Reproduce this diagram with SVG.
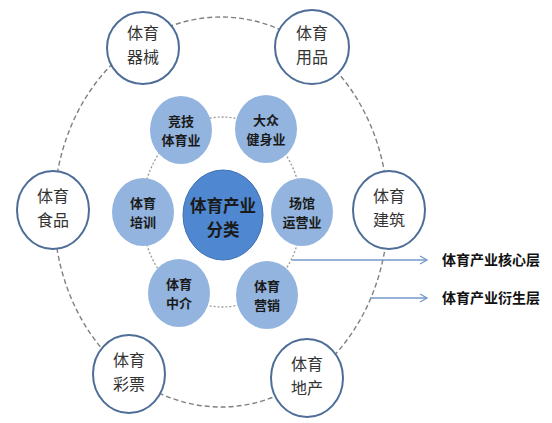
<svg xmlns="http://www.w3.org/2000/svg" width="552" height="423" viewBox="0 0 552 423">
<style>
.outer{fill:#fff;stroke:#4e6d97;stroke-width:2}
.inner{fill:#93b4de;stroke:none}
.core{fill:#4f88d0;stroke:#3d6fb3;stroke-width:1}
.ot{font-family:"Noto Sans CJK SC","Noto Sans CJK JP",sans-serif;font-size:16px;fill:#333;text-anchor:middle}
.it{font-family:"Noto Sans CJK SC","Noto Sans CJK JP",sans-serif;font-size:13px;font-weight:bold;fill:#1a1a1a;text-anchor:middle}
.ct{font-family:"Noto Sans CJK SC","Noto Sans CJK JP",sans-serif;font-size:16.5px;font-weight:bold;fill:#1a1a1a;text-anchor:middle}
.lt{font-family:"Noto Sans CJK SC","Noto Sans CJK JP",sans-serif;font-size:14px;font-weight:bold;fill:#111}
.arr{stroke:#7399c9;stroke-width:1.3;fill:none}
</style>
<defs>
<marker id="ah" markerWidth="10" markerHeight="10" refX="8" refY="5" orient="auto" markerUnits="userSpaceOnUse">
<path d="M1,1 L8,5 L1,9" fill="none" stroke="#7399c9" stroke-width="1.3"/>
</marker>
</defs>
<rect width="552" height="423" fill="#fff"/>
<g id="connectors">
<ellipse cx="221" cy="212" rx="167" ry="195" fill="none" stroke="#808080" stroke-width="1.4" stroke-dasharray="5 3"/>
<ellipse cx="222" cy="212" rx="80" ry="95" fill="none" stroke="#9a9a9a" stroke-width="1.3" stroke-dasharray="2 2"/>
<line class="arr" x1="292" y1="260" x2="427" y2="260" marker-end="url(#ah)"/>
<line class="arr" x1="370" y1="298" x2="427" y2="298" marker-end="url(#ah)"/>
</g>
<g id="n-qixie"><circle class="outer" cx="143" cy="48" r="36"/><text class="ot" x="143" y="39">体育</text><text class="ot" x="143" y="62.5">器械</text></g>
<g id="n-yongpin"><circle class="outer" cx="312" cy="47" r="37"/><text class="ot" x="312" y="39">体育</text><text class="ot" x="312" y="62.5">用品</text></g>
<g id="n-shipin"><ellipse class="outer" cx="53" cy="210" rx="36" ry="39"/><text class="ot" x="53" y="202">体育</text><text class="ot" x="53" y="225.5">食品</text></g>
<g id="n-jianzhu"><ellipse class="outer" cx="389" cy="210" rx="36" ry="39"/><text class="ot" x="389" y="202">体育</text><text class="ot" x="389" y="225.5">建筑</text></g>
<g id="n-caipiao"><ellipse class="outer" cx="129" cy="374" rx="36" ry="39"/><text class="ot" x="129" y="366">体育</text><text class="ot" x="129" y="389.5">彩票</text></g>
<g id="n-dichan"><ellipse class="outer" cx="307" cy="378" rx="36" ry="39"/><text class="ot" x="307" y="370">体育</text><text class="ot" x="307" y="393.5">地产</text></g>
<g id="n-jingji"><ellipse class="inner" cx="181" cy="130" rx="31" ry="34"/><text class="it" x="181" y="126">竞技</text><text class="it" x="181" y="145">体育业</text></g>
<g id="n-dazhong"><ellipse class="inner" cx="266" cy="129" rx="31" ry="34"/><text class="it" x="266" y="125">大众</text><text class="it" x="266" y="144">健身业</text></g>
<g id="n-peixun"><ellipse class="inner" cx="143" cy="212" rx="31" ry="34"/><text class="it" x="143" y="208">体育</text><text class="it" x="143" y="227">培训</text></g>
<g id="n-changguan"><ellipse class="inner" cx="302" cy="212" rx="31" ry="34"/><text class="it" x="302" y="208">场馆</text><text class="it" x="302" y="227">运营业</text></g>
<g id="n-zhongjie"><ellipse class="inner" cx="179" cy="293" rx="31" ry="34"/><text class="it" x="179" y="289">体育</text><text class="it" x="179" y="308">中介</text></g>
<g id="n-yingxiao"><ellipse class="inner" cx="267" cy="295" rx="31" ry="34"/><text class="it" x="267" y="291">体育</text><text class="it" x="267" y="310">营销</text></g>
<g id="n-core"><ellipse class="core" cx="223" cy="215" rx="40" ry="45"/><text class="ct" x="223" y="212">体育产业</text><text class="ct" x="223" y="236">分类</text></g>
<g id="n-label1"><text class="lt" x="442" y="265">体育产业核心层</text></g>
<g id="n-label2"><text class="lt" x="442" y="303">体育产业衍生层</text></g>
</svg>
